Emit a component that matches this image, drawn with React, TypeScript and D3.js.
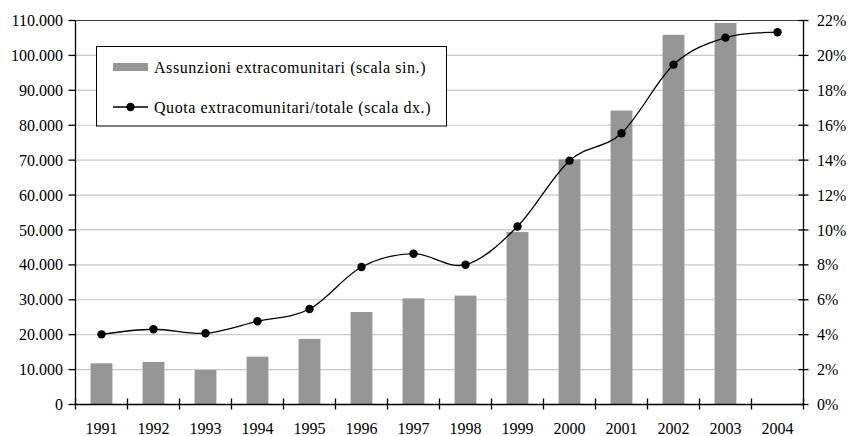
import React from 'react';
import * as d3 from 'd3';

const years = ['1991', '1992', '1993', '1994', '1995', '1996', '1997', '1998', '1999', '2000', '2001', '2002', '2003', '2004'];
// assunzioni extracomunitari (no value for 2004)
const hires: (number | null)[] = [11800, 12200, 9900, 13700, 18800, 26500, 30400, 31200, 49400, 70200, 84200, 105900, 109300, null];
// quota extracomunitari / totale (%)
const share = [4.02, 4.31, 4.08, 4.77, 5.47, 7.88, 8.64, 8.01, 10.2, 13.97, 15.54, 19.47, 21.02, 21.33];
const leftTicks = d3.range(0, 110001, 10000);
const rightTicks = d3.range(0, 23, 2);

const legendLabels = ['Assunzioni extracomunitari (scala sin.)', 'Quota extracomunitari/totale (scala dx.)'];

const width = 851;
const height = 436;
const plot = { left: 75.5, right: 803.5, top: 20.5, bottom: 404.5 };
const font = '"Liberation Serif", "Times New Roman", serif';

const fmtThousands = (v: number) => d3.format(',')(v).replace(/,/g, '.');

export default function App() {
  const x = d3.scaleBand<string>().domain(years).range([plot.left, plot.right]).paddingInner(0.58).paddingOuter(0.29);
  const band = d3.scaleBand<string>().domain(years).range([plot.left, plot.right]);
  const yL = d3.scaleLinear().domain([0, 110000]).range([plot.bottom, plot.top]);
  const yR = d3.scaleLinear().domain([0, 22]).range([plot.bottom, plot.top]);

  const cx = (y: string) => (band(y) ?? 0) + band.bandwidth() / 2;
  const pts = years.map((y, i) => ({ y, v: share[i] }));
  const line = d3.line<{ y: string; v: number }>()
    .x(d => cx(d.y))
    .y(d => yR(d.v))
    .curve(d3.curveCardinal.tension(0));

  const bw = x.bandwidth();
  const tickEdges = d3.range(0, years.length + 1).map(i => plot.left + i * band.step());

  return (
    <svg width={width} height={height} style={{ position: 'absolute', left: 0, top: 0, background: '#fff' }}
      fontFamily={font} fontSize={16}>
      {/* gridlines */}
      {leftTicks.slice(1, -1).map(t => (
        <line key={t} x1={plot.left} x2={plot.right} y1={yL(t)} y2={yL(t)} stroke="#c8c8c8" strokeWidth={1.2} />
      ))}
      <line x1={plot.left} x2={plot.right} y1={plot.top} y2={plot.top} stroke="#404040" strokeWidth={1.2} />

      {/* bars */}
      {years.map((y, i) => hires[i] == null ? null : (
        <rect key={y} x={cx(y) - bw / 2} y={yL(hires[i] as number)} width={bw}
          height={plot.bottom - yL(hires[i] as number)} fill="#969696" />
      ))}

      {/* line */}
      <path d={line(pts) ?? ''} fill="none" stroke="#000" strokeWidth={1.3} />
      {pts.map(p => (
        <circle key={p.y} cx={cx(p.y)} cy={yR(p.v)} r={4.2} fill="#000" />
      ))}

      {/* left axis */}
      <line x1={plot.left} x2={plot.left} y1={plot.top} y2={plot.bottom} stroke="#000" strokeWidth={1.3} />
      {leftTicks.map(t => (
        <g key={t}>
          <line x1={plot.left - 7} x2={plot.left} y1={yL(t)} y2={yL(t)} stroke="#000" strokeWidth={1.3} />
          <text x={63} y={yL(t)} dy="0.35em" textAnchor="end">{t === 0 ? '0' : fmtThousands(t)}</text>
        </g>
      ))}

      {/* right axis */}
      <line x1={plot.right} x2={plot.right} y1={plot.top} y2={plot.bottom} stroke="#000" strokeWidth={1.3} />
      {rightTicks.map(t => (
        <g key={t}>
          <line x1={plot.right - 5} x2={plot.right + 5} y1={yR(t)} y2={yR(t)} stroke="#000" strokeWidth={1.3} />
          <text x={817} y={yR(t)} dy="0.35em" textAnchor="start">{t}%</text>
        </g>
      ))}

      {/* x axis */}
      <line x1={plot.left} x2={plot.right} y1={plot.bottom} y2={plot.bottom} stroke="#000" strokeWidth={1.3} />
      {tickEdges.map((e, i) => (
        <line key={i} x1={e} x2={e} y1={plot.bottom - 6} y2={plot.bottom + 5} stroke="#000" strokeWidth={1.3} />
      ))}
      {years.map(y => (
        <text key={y} x={cx(y)} y={433.5} textAnchor="middle">{y}</text>
      ))}

      {/* legend */}
      <rect x={96.5} y={46.5} width={350} height={79.5} fill="#fff" stroke="#000" strokeWidth={1} />
      <rect x={113} y={63} width={35} height={8} fill="#969696" />
      <text x={154} y={67} dy="0.35em" letterSpacing={0.55}>{legendLabels[0]}</text>
      <line x1={113} x2={148} y1={107} y2={107} stroke="#000" strokeWidth={1.3} />
      <circle cx={130.5} cy={107} r={4.2} fill="#000" />
      <text x={154} y={107} dy="0.35em" letterSpacing={0.55}>{legendLabels[1]}</text>
    </svg>
  );
}
